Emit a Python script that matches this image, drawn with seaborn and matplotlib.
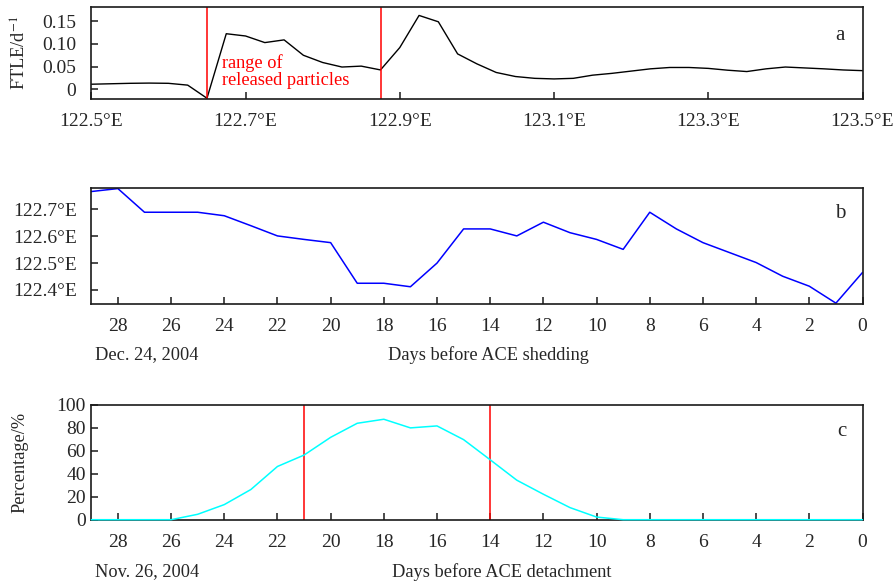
import numpy as np
import pandas as pd
import matplotlib
matplotlib.use("Agg")
import matplotlib.pyplot as plt
import seaborn as sns

# ---- data -------------------------------------------------------------
# (a) FTLE along the section, every 0.025 degrees of longitude
lon_a = [122.500, 122.525, 122.550, 122.575, 122.600, 122.625, 122.650,
         122.675, 122.700, 122.725, 122.750, 122.775, 122.800, 122.825,
         122.850, 122.875, 122.900, 122.925, 122.950, 122.975, 123.000,
         123.025, 123.050, 123.075, 123.100, 123.125, 123.150, 123.175,
         123.200, 123.225, 123.250, 123.275, 123.300, 123.325, 123.350,
         123.375, 123.400, 123.425, 123.450, 123.475, 123.500]
ftle = [0.011, 0.012, 0.013, 0.0135, 0.013, 0.009, -0.020,
        0.1226, 0.1176, 0.103, 0.109, 0.075, 0.059, 0.049,
        0.051, 0.0426, 0.092, 0.163, 0.149, 0.078, 0.056,
        0.037, 0.028, 0.024, 0.0227, 0.024, 0.031, 0.035,
        0.040, 0.045, 0.048, 0.048, 0.046, 0.042, 0.039,
        0.045, 0.049, 0.047, 0.045, 0.0425, 0.041]
release_range = [122.65, 122.875]

# (b) longitude of the eddy, days before ACE shedding
days = list(range(29, -1, -1))
lon_b = [122.766, 122.777, 122.689, 122.689, 122.689, 122.676, 122.639,
         122.601, 122.588, 122.576, 122.425, 122.425, 122.412, 122.500,
         122.627, 122.627, 122.601, 122.652, 122.613, 122.588, 122.551,
         122.689, 122.627, 122.576, 122.539, 122.502, 122.451, 122.414,
         122.351, 122.465]

# (c) percentage of particles, days before ACE detachment
pct = [0, 0, 0, 0, 4.7, 13.1, 26.2, 46.2, 56.1, 71.5, 83.7, 87.2, 79.7,
       81.4, 69.5, 52.0, 34.3, 22.1, 10.5, 2.3, 0, 0, 0, 0, 0, 0, 0, 0,
       0, 0]
window_c = [21, 14]

df_a = pd.DataFrame({"lon": lon_a, "ftle": ftle})
df_b = pd.DataFrame({"day": days, "lon": lon_b})
df_c = pd.DataFrame({"day": days, "pct": pct})

# ---- style ------------------------------------------------------------
sns.set_style("ticks")
plt.rcParams["font.family"] = ["Liberation Serif", "DejaVu Serif"]
plt.rcParams["mathtext.fontset"] = "stix"
FS = 14      # tick labels
LFS = 13.2   # axis titles and annotations
W, H = 894, 586

fig = plt.figure(figsize=(W / 100, H / 100), dpi=100)


def px_axes(left, top, right, bottom):
    return fig.add_axes([left / W, 1 - bottom / H, (right - left) / W,
                         (bottom - top) / H])


def style_axes(ax, ypad):
    for s in ax.spines.values():
        s.set_color("#1a1a1a")
        s.set_linewidth(1.2)
    ax.tick_params(axis="both", direction="in", length=5, width=1.1,
                   color="#1a1a1a", labelsize=FS)
    ax.tick_params(axis="x", pad=10.5)
    ax.tick_params(axis="y", pad=ypad)
    ax.set_xlabel("")
    ax.set_ylabel("")


ax_a = px_axes(91.3, 7.3, 862.5, 98.7)
ax_b = px_axes(91.3, 188.3, 862.5, 303.7)
ax_c = px_axes(91.3, 404.5, 862.5, 519.7)

# ---- panel a ------------------------------------------------------------
sns.lineplot(data=df_a, x="lon", y="ftle", ax=ax_a, color="black",
             linewidth=1.0)
for x in release_range:
    ax_a.axvline(x, color="red", linewidth=1.1)
ax_a.set_xlim(122.5, 123.5)
ax_a.set_ylim(-0.021, 0.181)
ax_a.set_xticks(np.round(np.arange(122.5, 123.51, 0.2), 1))
ax_a.set_xticklabels([f"{v:.1f}°E" for v in np.arange(122.5, 123.51, 0.2)])
ax_a.set_yticks([0, 0.05, 0.10, 0.15])
ax_a.set_yticklabels(["0", "0.05", "0.10", "0.15"])
style_axes(ax_a, 11)
ax_a.text(222 / W, 1 - 63 / H, "range of", transform=fig.transFigure,
          color="red", fontsize=LFS, va="center", ha="left")
ax_a.text(222 / W, 1 - 81 / H, "released particles",
          transform=fig.transFigure, color="red", fontsize=LFS,
          va="center", ha="left")
fig.text(840 / W, 1 - 35 / H, "a", fontsize=FS + 1, ha="center",
         va="center")
fig.text(20 / W, 1 - 53 / H, "FTLE/d$^{-1}$", rotation=90, fontsize=LFS,
         ha="center", va="center")

# ---- panel b ------------------------------------------------------------
sns.lineplot(data=df_b, x="day", y="lon", ax=ax_b, color="#0000ff",
             linewidth=1.1)
ax_b.set_xlim(29, 0)
ax_b.set_ylim(122.349, 122.778)
ax_b.set_xticks(list(range(28, -1, -2)))
ax_b.set_yticks([122.4, 122.5, 122.6, 122.7])
ax_b.set_yticklabels([f"{v:.1f}°E" for v in [122.4, 122.5, 122.6, 122.7]])
style_axes(ax_b, 10)
fig.text(840 / W, 1 - 214 / H, "b", fontsize=FS + 1, ha="center",
         va="center")
fig.text(95 / W, 1 - 355 / H, "Dec. 24, 2004", fontsize=LFS, ha="left",
         va="center")
fig.text(488 / W, 1 - 355 / H, "Days before ACE shedding", fontsize=LFS,
         ha="center", va="center")

# ---- panel c ------------------------------------------------------------
sns.lineplot(data=df_c, x="day", y="pct", ax=ax_c, color="#00ffff",
             linewidth=1.1, clip_on=False, zorder=5)
for x in window_c:
    ax_c.axvline(x, color="red", linewidth=1.1)
ax_c.set_xlim(29, 0)
ax_c.set_ylim(0, 100)
ax_c.set_xticks(list(range(28, -1, -2)))
ax_c.set_yticks([0, 20, 40, 60, 80, 100])
style_axes(ax_c, 4)
fig.text(842 / W, 1 - 432 / H, "c", fontsize=FS + 1, ha="center",
         va="center")
fig.text(20 / W, 1 - 462 / H, "Percentage/%", rotation=90, fontsize=LFS,
         ha="center", va="center")
fig.text(95 / W, 1 - 572 / H, "Nov. 26, 2004", fontsize=LFS, ha="left",
         va="center")
fig.text(502 / W, 1 - 572 / H, "Days before ACE detachment", fontsize=LFS,
         ha="center", va="center")

fig.savefig("out.png", dpi=100, facecolor="white")
